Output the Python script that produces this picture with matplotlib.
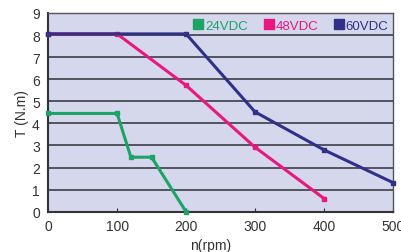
import matplotlib
matplotlib.use("Agg")
import matplotlib.pyplot as plt

rpm_24 = [0, 100, 120, 150, 200]
t_24 = [4.45, 4.45, 2.47, 2.47, 0]
rpm_48 = [0, 100, 200, 300, 400]
t_48 = [8.05, 8.05, 5.72, 2.92, 0.6]
rpm_60 = [0, 200, 300, 400, 500]
t_60 = [8.05, 8.05, 4.52, 2.8, 1.32]
labels = ["24VDC", "48VDC", "60VDC"]
colors = ["#1ba466", "#e8187f", "#2f3186"]

plt.rcParams['font.family'] = ['Liberation Sans', 'DejaVu Sans']
fig = plt.figure(figsize=(4.01, 2.53), dpi=100)
ax = fig.add_axes([0.12, 0.159, 0.86, 0.786])
ax.set_facecolor("#d5d7ed")
for x, y, c in zip([rpm_24, rpm_48, rpm_60], [t_24, t_48, t_60], colors):
    ax.plot(x, y, color=c, lw=2.2, marker='s', ms=3, clip_on=False, zorder=3)
ax.set_xlim(0, 500)
ax.set_ylim(0, 9)
ax.set_yticks(range(0, 10))
ax.set_xticks(range(0, 501, 100))
ax.yaxis.grid(True, color="#4a4a55", lw=1.3)
ax.set_axisbelow(True)
ax.tick_params(axis='y', length=0, pad=6, labelsize=10, labelcolor="#333333")
ax.tick_params(axis='x', direction='in', length=3, pad=5, labelsize=10, labelcolor="#333333", color="#333333")
for s in ["left", "bottom"]:
    ax.spines[s].set_color("#333333")
    ax.spines[s].set_linewidth(1.5)
for s in ["top", "right"]:
    ax.spines[s].set_color("#555555")
    ax.spines[s].set_linewidth(1.0)
ax.set_ylabel("T (N.m)", fontsize=10, color="#333333", labelpad=2)
ax.set_xlabel("n(rpm)", fontsize=10, color="#333333", labelpad=1)
ax.xaxis.set_label_coords(0.47, -0.13)
handles = [plt.Line2D([], [], marker='s', ls='none', color=c, ms=7) for c in colors]
leg = ax.legend(handles, labels, loc='upper right', ncol=3, frameon=False,
                handlelength=0.6, handletextpad=0.2, columnspacing=1.3,
                fontsize=9.5, bbox_to_anchor=(1.01, 1.005), borderaxespad=0.2)
for t, c in zip(leg.get_texts(), colors):
    t.set_color(c)
fig.savefig("out.png", dpi=100, facecolor="white")
